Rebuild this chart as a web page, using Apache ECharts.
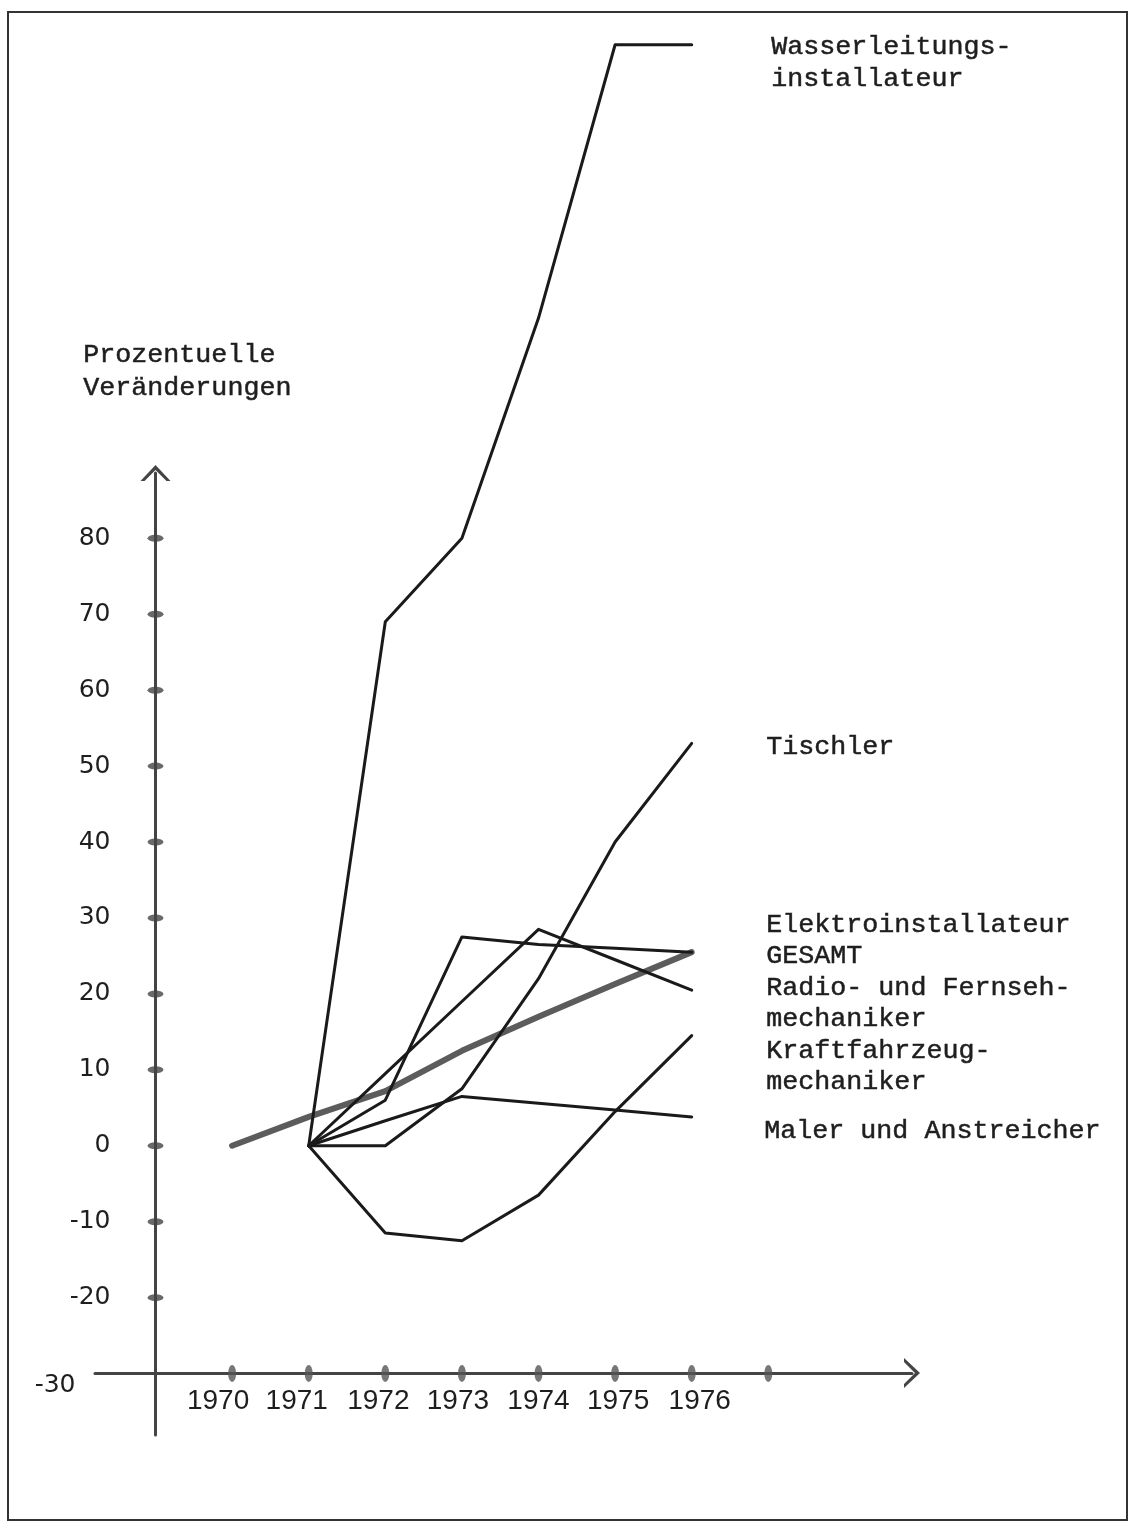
<!DOCTYPE html>
<html>
<head>
<meta charset="utf-8">
<script src="https://cdn.jsdelivr.net/npm/echarts@6/dist/echarts.min.js"></script>
<style>
html,body{margin:0;padding:0;background:#fff;}
#chart{width:1135px;height:1525px;}
</style>
</head>
<body>
<div id="chart"></div>
<script>
// ---- data ----
const years = [1970, 1971, 1972, 1973, 1974, 1975, 1976];
const wasserleitung = [null, 0, 69, 80, 109, 145, 145];
const tischler      = [null, 0, 0, 7.5, 22, 40, 53];
const elektro       = [null, 0, 6, 27.5, 26.5, 26, 25.5];
const radioFernseh  = [null, 0, 9.5, 19, 28.5, 24.5, 20.5];
const kfz           = [null, 0, -11.5, -12.5, -6.5, 4.5, 14.5];
const maler         = [null, 0, 3.3, 6.5, 5.6, 4.7, 3.8];
const gesamt        = [0, 3.8, 7.2, 12.5, 17, 21.3, 25.5];
const yTickValues = [-30, -20, -10, 0, 10, 20, 30, 40, 50, 60, 70, 80];
const xTickValues = [1970, 1971, 1972, 1973, 1974, 1975, 1976, 1977];
const xLabelValues = [1970, 1971, 1972, 1973, 1974, 1975, 1976];
const axisTitle = ['Prozentuelle', 'Veränderungen'];

function pairs(arr) {
  const out = [];
  years.forEach((y, i) => { if (arr[i] !== null) out.push([y, arr[i]]); });
  return out;
}

// horizontal nudge of the typed year labels (pixels, layout only)
const yearLabelNudge = { 1970: -14, 1971: -12, 1972: -7, 1973: -4, 1974: 0, 1975: 3, 1976: 8 };

const chevron = 'path://M0,16 L15,0 L30,16 L26,16 L15,5 L4,16 Z';
const mono = "'Liberation Mono', 'DejaVu Sans Mono', monospace";
const textColor = '#1e1e1e';
const axisColor = '#444';
const yFont = "'DejaVu Sans', sans-serif";
const xFont = "'Liberation Sans', Arial, sans-serif";

function lineSeries(name, arr, opts) {
  return Object.assign({
    name: name,
    type: 'line',
    data: pairs(arr),
    symbol: 'none',
    clip: false,
    lineStyle: { color: '#1a1a1a', width: 3, join: 'round', cap: 'round' },
    z: 3
  }, opts || {});
}

function txt(str, x, y) {
  return {
    type: 'text', left: x, top: y - 13,
    style: { text: str, font: "26.7px " + mono, fill: textColor, stroke: textColor, lineWidth: 0.5 }
  };
}

const xRich = {};
xLabelValues.forEach(v => {
  const n = yearLabelNudge[v] || 0;
  xRich['y' + v] = {
    fontFamily: xFont, fontSize: 28, color: textColor,
    padding: n < 0 ? [0, -2 * n, 0, 0] : [0, 0, 0, 2 * n]
  };
});

const chart = echarts.init(document.getElementById('chart'), null, { renderer: 'canvas' });
chart.setOption({
  animation: false,
  backgroundColor: '#fff',
  grid: { left: 95, right: 223, top: 473, bottom: 90 },
  xAxis: {
    type: 'value', min: 1968.21, max: 1978.876,
    offset: -62,
    axisLine: { onZero: false, lineStyle: { color: axisColor, width: 3 }, symbol: ['none', chevron], symbolSize: [30, 16] },
    axisTick: { show: false },
    splitLine: { show: false },
    axisLabel: {
      customValues: xLabelValues, margin: 14,
      fontFamily: xFont, fontSize: 28, color: textColor,
      formatter: v => '{y' + v + '|' + v + '}',
      rich: xRich
    }
  },
  yAxis: {
    type: 'value', min: -38.09, max: 88.6,
    offset: -60.5,
    axisLine: { onZero: false, lineStyle: { color: axisColor, width: 3 }, symbol: ['none', chevron], symbolSize: [30, 16] },
    axisTick: { show: false },
    splitLine: { show: false },
    axisLabel: {
      customValues: yTickValues, margin: 45,
      fontFamily: yFont, fontSize: 25, color: textColor,
      formatter: v => v === -30 ? '{m|-30}' : '{n|' + v + '}',
      rich: {
        m: { fontFamily: yFont, fontSize: 25, color: textColor, padding: [24, 35, 0, 0] },
        n: { fontFamily: yFont, fontSize: 25, color: textColor }
      }
    }
  },
  series: [
    {
      type: 'scatter', data: yTickValues.filter(v => v !== -30).map(v => [1969, v]),
      symbol: 'circle', symbolSize: [16, 7], clip: false,
      itemStyle: { color: axisColor }, silent: true, z: 4
    },
    {
      type: 'scatter', data: xTickValues.map(v => [v, -30]),
      symbol: 'circle', symbolSize: [8, 17], clip: false,
      itemStyle: { color: '#555' }, silent: true, z: 4
    },
    lineSeries('GESAMT', gesamt, { lineStyle: { color: '#5c5c5c', width: 6, cap: 'round', join: 'round' }, z: 2 }),
    lineSeries('Wasserleitungsinstallateur', wasserleitung),
    lineSeries('Tischler', tischler),
    lineSeries('Elektroinstallateur', elektro),
    lineSeries('Radio- und Fernsehmechaniker', radioFernseh),
    lineSeries('Kraftfahrzeugmechaniker', kfz),
    lineSeries('Maler und Anstreicher', maler)
  ],
  graphic: [
    { type: 'rect', shape: { x: 8, y: 12, width: 1119, height: 1508 }, style: { fill: 'none', stroke: '#333', lineWidth: 2 }, silent: true },
    txt(axisTitle[0], 83, 354),
    txt(axisTitle[1], 83, 387),
    txt('Wasserleitungs-', 771, 46),
    txt('installateur', 771, 78),
    txt('Tischler', 766, 746),
    txt('Elektroinstallateur', 766, 924),
    txt('GESAMT', 766, 955),
    txt('Radio- und Fernseh-', 766, 987),
    txt('mechaniker', 766, 1018),
    txt('Kraftfahrzeug-', 766, 1050),
    txt('mechaniker', 766, 1081),
    txt('Maler und Anstreicher', 764, 1130)
  ]
});
</script>
</body>
</html>
